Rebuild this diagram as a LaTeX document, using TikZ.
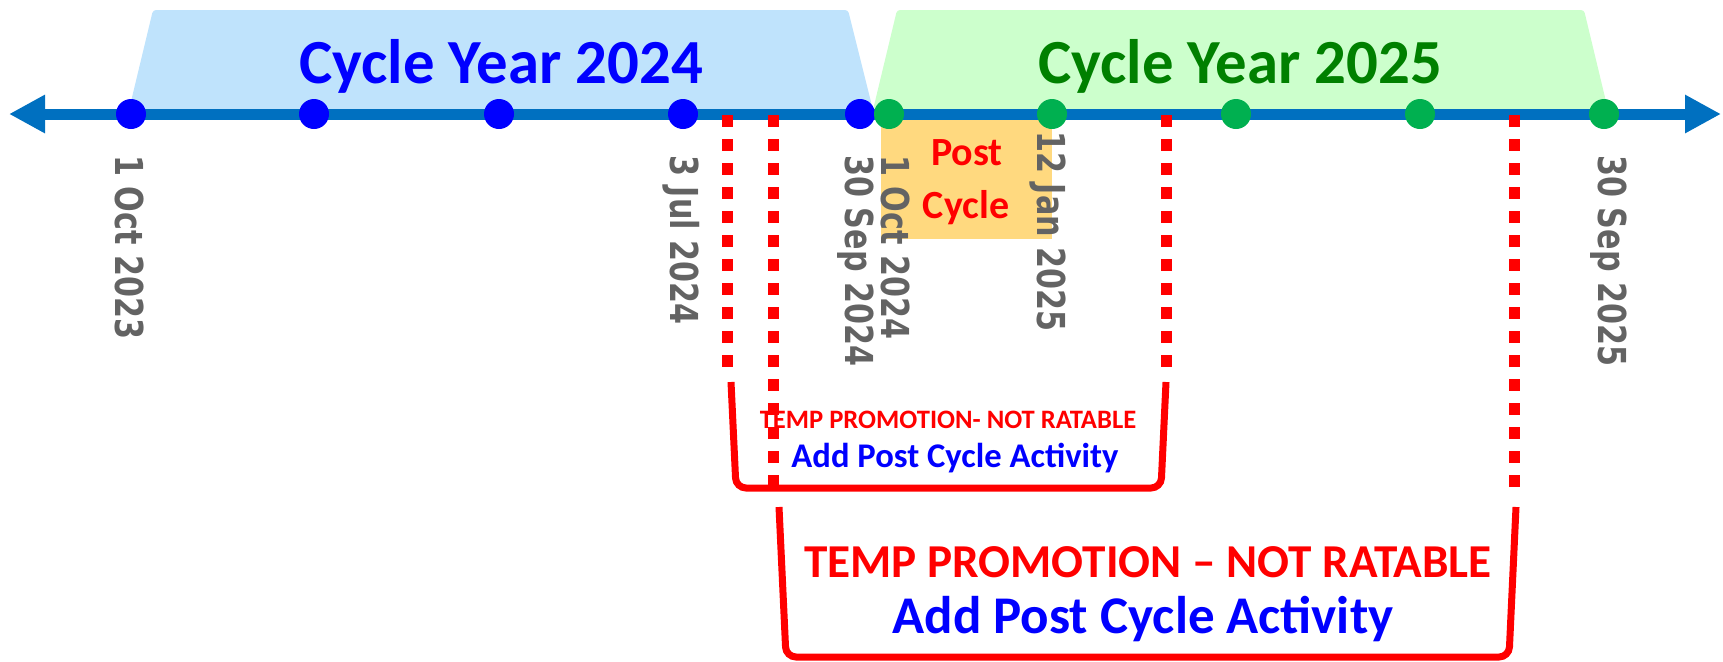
\documentclass[tikz,border=0pt]{standalone}
\usepackage{fontspec}
\usetikzlibrary{arrows.meta}
\newfontfamily\calfont{Carlito}
\newfontfamily\datefont[FakeStretch=0.784]{DejaVu Sans}

\definecolor{axisblue}{HTML}{0070C0}
\definecolor{dotblue}{HTML}{0000FF}
\definecolor{dotgreen}{HTML}{00B050}
\definecolor{yearblue}{HTML}{BFE3FC}
\definecolor{yeargreen}{HTML}{CCFFCC}
\definecolor{postfill}{HTML}{FFD97F}
\definecolor{dategrey}{HTML}{636363}
\definecolor{titlegreen}{HTML}{008000}

\begin{document}
\begin{tikzpicture}[x=0.5pt,y=-0.5pt,
  dotmark/.style={circle, inner sep=0pt, minimum size=15pt},
  bdot/.style={dotmark, fill=dotblue},
  gdot/.style={dotmark, fill=dotgreen},
  datelbl/.style={rotate=-90, anchor=base west, inner sep=0pt, text=dategrey,
    font=\datefont\bfseries\fontsize{19.25}{22}\selectfont},
  cal/.style={anchor=base, inner sep=0pt, font=\calfont\bfseries\fontsize{#1}{#1}\selectfont},
  reddash/.style={draw=red, line width=5.5pt, dash pattern=on 6pt off 6pt},
  bracketline/.style={draw=red, line width=3.5pt, rounded corners=5pt},
  axisline/.style={draw=axisblue, line width=5.5pt,
    arrows={Triangle[length=18pt,width=18pt]-Triangle[length=18pt,width=18pt]}}
]
\useasboundingbox (0,0) rectangle (1723,661);

% cycle year bands
\fill[yearblue, rounded corners=1.5pt] (128,114) -- (153,10) -- (848,10) -- (874,114) -- cycle;
\fill[yeargreen, rounded corners=1.5pt] (872,114) -- (897,10) -- (1584,10) -- (1609,114) -- cycle;

% post cycle window
\node[fill=postfill, inner sep=0pt, minimum width=85.5pt, minimum height=62.5pt]
  (postbox) at (966.5,176.5) {};

% time axis
\coordinate (axL) at (9,114);
\coordinate (axR) at (1721,114);
\draw[axisline] (axL) -- (axR);

% milestones
\node[bdot] (b1) at (131,114) {};
\node[bdot] (b2) at (314,114) {};
\node[bdot] (b3) at (499,114) {};
\node[bdot] (b4) at (683,114) {};
\node[bdot] (b5) at (860,114) {};
\node[gdot] (g1) at (889,114) {};
\node[gdot] (g2) at (1052,114) {};
\node[gdot] (g3) at (1236,114) {};
\node[gdot] (g4) at (1420,114) {};
\node[gdot] (g5) at (1604,114) {};

% year titles
\node[cal=31.4, text=dotblue] (t24) at (501,83) {Cycle Year 2024};
\node[cal=31.4, text=titlegreen] (t25) at (1240,83) {Cycle Year 2025};

% post cycle caption
\node[cal=20, text=red] (postA) at (967,165) {Post};
\node[cal=20, text=red] (postB) at (966,218) {Cycle};

% dates
\node[datelbl] (dA) at (115,155) {1 Oct 2023};
\node[datelbl] (dB) at (670,155) {3 Jul 2024};
\node[datelbl] (dC) at (845,155) {30 Sep 2024};
\node[datelbl] (dD) at (881,155) {1 Oct 2024};
\node[datelbl] (dE) at (1037,131) {12 Jan 2025};
\node[datelbl] (dF) at (1598,155) {30 Sep 2025};

% promotion brackets
\coordinate (sA) at (731,382);
\coordinate (sB) at (736,488);
\coordinate (sC) at (1161,488);
\coordinate (sD) at (1166,382);
\draw[bracketline] (sA) -- (sB) -- (sC) -- (sD);
\coordinate (lA) at (779,507);
\coordinate (lB) at (786,657);
\coordinate (lC) at (1509,657);
\coordinate (lD) at (1516,507);
\draw[bracketline] (lA) -- (lB) -- (lC) -- (lD);

% dotted markers
\coordinate (m1t) at (727.5,115);  \coordinate (m1b) at (727.5,367);
\coordinate (m2t) at (773.5,115);  \coordinate (m2b) at (773.5,490);
\coordinate (m3t) at (1166.5,115); \coordinate (m3b) at (1166.5,370);
\coordinate (m4t) at (1514,115);   \coordinate (m4b) at (1514,490);
\draw[reddash] (m1t) -- (m1b);
\draw[reddash] (m2t) -- (m2b);
\draw[reddash] (m3t) -- (m3b);
\draw[reddash] (m4t) -- (m4b);

% bracket captions
\node[cal=13.3, text=red] (sT) at (948,428) {TEMP PROMOTION- NOT RATABLE};
\node[cal=17.3, text=dotblue] (sP) at (955,467) {Add Post Cycle Activity};
\node[cal=23.6, text=red] (lT) at (1148,577) {TEMP PROMOTION – NOT RATABLE};
\node[cal=26.5, text=dotblue] (lP) at (1143,633) {Add Post Cycle Activity};
\end{tikzpicture}
\end{document}
